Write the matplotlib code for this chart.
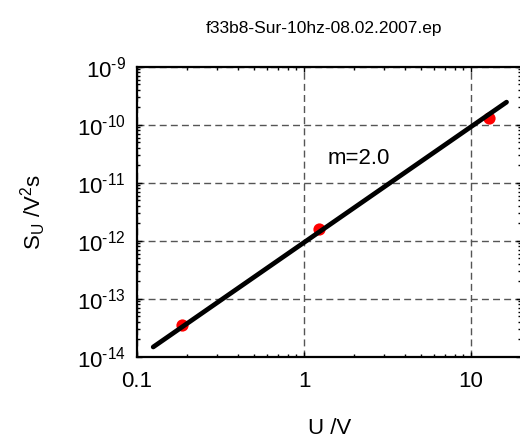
import matplotlib
matplotlib.use("Agg")
import matplotlib.pyplot as plt
from matplotlib.ticker import LogLocator, FixedLocator, FixedFormatter, NullFormatter

plt.rcParams['font.family'] = ['Liberation Sans', 'DejaVu Sans']
plt.rcParams['mathtext.fontset'] = 'custom'
plt.rcParams['mathtext.rm'] = 'Liberation Sans'
plt.rcParams['mathtext.it'] = 'Liberation Sans:italic'
plt.rcParams['mathtext.default'] = 'regular'

# Data
u_points = [0.185, 1.23, 12.8]
s_points = [3.5e-14, 1.59e-12, 1.29e-10]
fit_u = [0.125, 16.3]
fit_s = [1.47e-14, 2.45e-10]
slope_label = "m=2.0"
title = "f33b8-Sur-10hz-08.02.2007.ep"
x_ticks = [0.1, 1, 10]
x_ticklabels = ["0.1", "1", "10"]
y_ticks = [1e-14, 1e-13, 1e-12, 1e-11, 1e-10, 1e-9]
y_exponents = ["-14", "-13", "-12", "-11", "-10", "-9"]
y_ticklabels = [r"$10^{\text{%s}}$" % e for e in y_exponents]

W, H = 520, 438
fig = plt.figure(figsize=(W / 100, H / 100), dpi=100)
L, R, T, B = 137, 521.4, 66.7, 356.7
ax = fig.add_axes([L / W, 1 - B / H, (R - L) / W, (B - T) / H])
ax.set_xscale('log')
ax.set_yscale('log')
ax.set_xlim(0.1, 20)
ax.set_ylim(1e-14, 1e-9)

ax.grid(True, which='major', linestyle=(0, (5, 3)), color='#555555', linewidth=1.0)
ax.set_axisbelow(True)

ax.plot(u_points, s_points, 'o', color='#ff0000', markersize=8.8, markeredgewidth=0, zorder=3)
ax.plot(fit_u, fit_s, '-', color='black', linewidth=3.4, solid_capstyle='round', zorder=4)

ax.text(1.38, 2.08e-11, slope_label, fontsize=16, ha='left', va='baseline')

ax.xaxis.set_major_locator(FixedLocator(x_ticks))
ax.xaxis.set_major_formatter(FixedFormatter(x_ticklabels))
ax.xaxis.set_minor_locator(LogLocator(base=10, subs=range(2, 10), numticks=20))
ax.xaxis.set_minor_formatter(NullFormatter())
ax.yaxis.set_major_locator(FixedLocator(y_ticks))
ax.yaxis.set_major_formatter(FixedFormatter(y_ticklabels))
ax.yaxis.set_minor_locator(LogLocator(base=10, subs=range(2, 10), numticks=20))
ax.yaxis.set_minor_formatter(NullFormatter())

ax.tick_params(which='both', direction='in', top=True, right=True, colors='black')
ax.tick_params(which='major', length=3.5, width=1.0, labelsize=16)
ax.tick_params(which='minor', length=2, width=1.0)
ax.tick_params(axis='x', which='major', pad=10)
ax.tick_params(axis='y', which='major', pad=8)

for s in ax.spines.values():
    s.set_linewidth(1.6)
    s.set_color('black')

ax.set_xlabel("U /V", fontsize=16)
ax.xaxis.set_label_coords(0.5, -0.212)
ax.set_ylabel(r"$S_U$ /V$^2$s", fontsize=16)
ax.yaxis.set_label_coords(-0.232, 0.5)

fig.text(323.5 / W, 1 - 32.7 / H, title, fontsize=12.5, ha='center', va='baseline')

fig.savefig("out.png", dpi=100)
